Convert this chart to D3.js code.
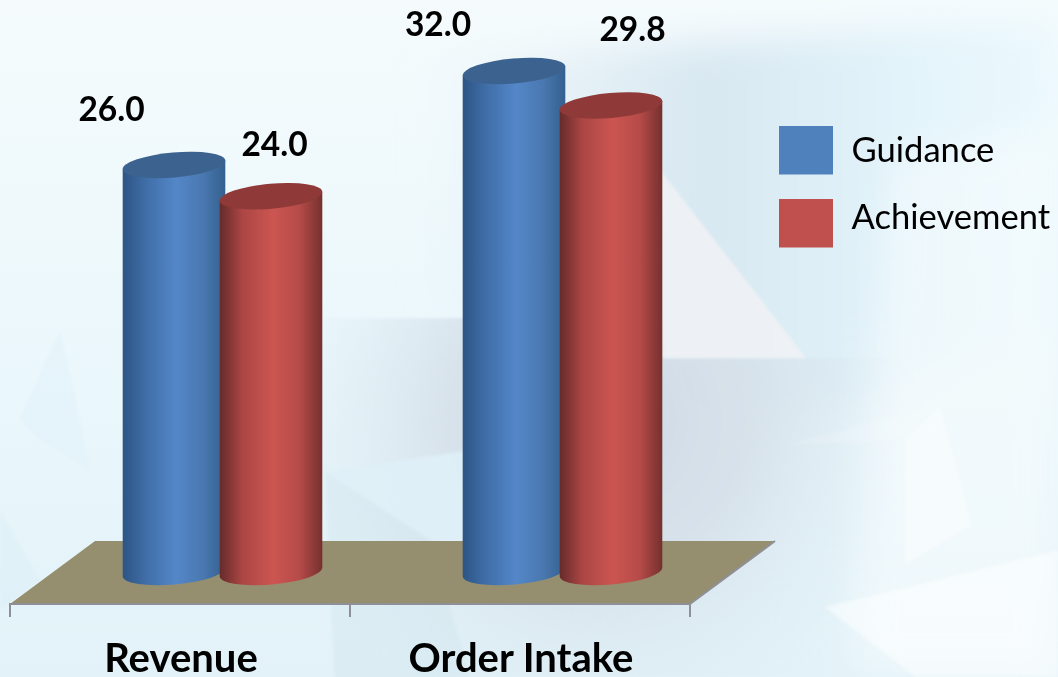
<!DOCTYPE html>
<html>
<head>
<meta charset="utf-8">
<script src="https://cdn.jsdelivr.net/npm/d3@7/dist/d3.min.js"></script>
<style>
  html, body { margin: 0; padding: 0; background: #e6f4fa; overflow: hidden; }
  text { font-family: Lato, "Open Sans", sans-serif; fill: #000; }
</style>
</head>
<body>
<div id="chart"></div>
<script>
const categories = ["Revenue", "Order Intake"];
const seriesNames = ["Guidance", "Achievement"];
const guidance = [26.0, 32.0];
const achievement = [24.0, 29.8];
const seriesColors = ["#4f81bd", "#c0504d"];

const width = 1058, height = 677;
const svg = d3.select("#chart").append("svg")
  .attr("width", width).attr("height", height).style("display", "block");
const defs = svg.append("defs");

// page background
const bg = defs.append("linearGradient").attr("id", "bg")
  .attr("x1", 0).attr("y1", 0).attr("x2", 0).attr("y2", 1);
[["0%", "#f5fbfd"], ["30%", "#eff9fc"], ["70%", "#e8f6fb"], ["100%", "#e2f2f8"]]
  .forEach(s => bg.append("stop").attr("offset", s[0]).attr("stop-color", s[1]));
svg.append("rect").attr("width", width).attr("height", height).attr("fill", "url(#bg)");

const tr = defs.append("linearGradient").attr("id", "topRight")
  .attr("x1", 0).attr("y1", 0).attr("x2", 1).attr("y2", 0);
[["0%", "#dbe9f1", 0], ["45%", "#d8e8f1", 1], ["75%", "#e2f3fa", 1], ["100%", "#e6f7fd", 0.6]]
  .forEach(s => tr.append("stop").attr("offset", s[0]).attr("stop-color", s[1]).attr("stop-opacity", s[2]));

const grey = defs.append("radialGradient").attr("id", "grey")
  .attr("gradientUnits", "userSpaceOnUse")
  .attr("cx", 600).attr("cy", 420).attr("r", 330);
[["0%", "#d0d9e5", 1], ["45%", "#d6e1ea", 0.95], ["100%", "#dcecf4", 0]]
  .forEach(s => grey.append("stop").attr("offset", s[0]).attr("stop-color", s[1]).attr("stop-opacity", s[2]));

defs.append("filter").attr("id", "soft")
  .append("feGaussianBlur").attr("stdDeviation", 1.5);
defs.append("filter").attr("id", "softer")
  .attr("x", "-20%").attr("y", "-20%").attr("width", "140%").attr("height", "140%")
  .append("feGaussianBlur").attr("stdDeviation", 18);

svg.append("polygon").attr("points", "420,60 1058,20 1058,330 800,420 420,300")
  .attr("fill", "url(#topRight)").attr("filter", "url(#softer)");
svg.append("polygon").attr("points", "322,318 665,318 665,358 1000,358 1000,677 322,677")
  .attr("fill", "url(#grey)").attr("filter", "url(#soft)");
svg.append("polygon").attr("points", "890,160 1058,120 1058,677 850,677")
  .attr("fill", "#ffffff").attr("opacity", 0.4).attr("filter", "url(#softer)");

const shapes = [
  ["660,170 806,358 662,358", "#eef1f4", 0.95],
  ["325,472 470,450 470,560 430,540", "#dff0f7", 0.9],
  ["335,690 325,472 430,540 470,677", "#cfe3ec", 0.35],
  ["905,440 940,405 972,525 905,565", "#ffffff", 0.4],
  ["785,445 935,405 905,440", "#ffffff", 0.15],
  ["825,607 1058,550 1058,677 915,677", "#ffffff", 0.5],
  ["20,420 60,330 90,470 40,440", "#dcf0f7", 0.3],
  ["0,510 40,580 0,610", "#d5ecf5", 0.3]
];
svg.append("g").attr("filter", "url(#soft)").selectAll("polygon").data(shapes).join("polygon")
  .attr("points", d => d[0]).attr("fill", d => d[1]).attr("opacity", d => d[2]);

// scales: front edge of the floor, then the value axis
const depthX = 85, depthY = 63;
const x0 = d3.scaleBand().domain(categories).range([10, 690]);
const x1 = d3.scaleBand().domain(seriesNames).range([0, 194]);
const y = d3.scaleLinear().domain([0, 32]).range([572, 71]);
const barX = d => x0(d.cat) + x0.bandwidth() / 2 - 48.5 + depthX / 2 + x1(seriesNames[d.s]);

// floor
const floorY = 604;
svg.append("polygon")
  .attr("points", [[10, floorY], [690, floorY], [690 + depthX, floorY - depthY], [10 + depthX, floorY - depthY]].join(" "))
  .attr("fill", "#968f6f");

// axis line and ticks
svg.append("path")
  .attr("d", "M10," + (floorY + 13) + "V" + floorY + "H350V" + (floorY + 13) + "M350," + floorY + "H690V" + (floorY + 13) + "M690," + floorY + "L" + (690 + depthX) + "," + (floorY - depthY))
  .attr("fill", "none").attr("stroke", "#8f9097").attr("stroke-width", 2);

// cylinder shading
const shades = [
  ["#2d5585", "#3f6da6", "#5487c9", "#4a78b0", "#34608f"],
  ["#652b2b", "#ab4644", "#cc5551", "#b54b48", "#75302f"]
];
shades.forEach((c, i) => {
  const g = defs.append("linearGradient").attr("id", "cyl" + i);
  [0, 0.22, 0.52, 0.78, 1].forEach((o, j) => g.append("stop").attr("offset", o).attr("stop-color", c[j]));
});
const topColors = ["#3c638f", "#8f3a38"];

const rx = 51.5, ry = 12.5, tilt = -5;
const rows = [];
categories.forEach((cat, i) => {
  rows.push({ cat, s: 0, value: guidance[i] });
  rows.push({ cat, s: 1, value: achievement[i] });
});

// cylinder outline: two tilted half ellipses joined by straight sides
function cylinderPath(cx, top, base) {
  const a = tilt * Math.PI / 180;
  const dx = rx * Math.cos(a), dy = rx * Math.sin(a);
  return "M" + (cx - dx) + "," + (top - dy) +
    "L" + (cx - dx) + "," + (base - dy) +
    "A" + rx + "," + ry + " " + tilt + " 0 0 " + (cx + dx) + "," + (base + dy) +
    "L" + (cx + dx) + "," + (top + dy) + "Z";
}

const bars = svg.append("g").selectAll("g").data(rows).join("g");
bars.append("path")
  .attr("d", d => cylinderPath(barX(d), y(d.value), y(0)))
  .attr("fill", d => "url(#cyl" + d.s + ")");
bars.append("ellipse")
  .attr("rx", rx).attr("ry", ry)
  .attr("transform", d => "translate(" + barX(d) + "," + y(d.value) + ") rotate(" + tilt + ")")
  .attr("fill", d => topColors[d.s]);

// value labels sit well away from the bars in the original
const labelNudge = [[-62.5, -44], [3.5, -40], [-76, -35], [21.5, -64]];
svg.append("g").selectAll("text").data(rows).join("text")
  .attr("x", (d, i) => barX(d) + labelNudge[i][0])
  .attr("y", (d, i) => y(d.value) + labelNudge[i][1])
  .attr("text-anchor", "middle")
  .attr("font-size", 33.5).attr("font-weight", 700)
  .text(d => d.value.toFixed(1));

// category labels
svg.append("g").selectAll("text").data(categories).join("text")
  .attr("x", d => x0(d) + x0.bandwidth() / 2 + 1)
  .attr("y", 672)
  .attr("text-anchor", "middle")
  .attr("font-size", 40).attr("font-weight", 700)
  .text(d => d);

// legend
const legend = svg.append("g").selectAll("g").data(seriesNames).join("g")
  .attr("transform", (d, i) => "translate(779," + (126 + i * 73) + ")");
legend.append("rect").attr("width", 54).attr("height", 48.5).attr("fill", (d, i) => seriesColors[i]);
legend.append("text").attr("x", 72.5).attr("y", (d, i) => i ? 30 : 36)
  .attr("font-size", 34.6).text(d => d);
</script>
</body>
</html>
